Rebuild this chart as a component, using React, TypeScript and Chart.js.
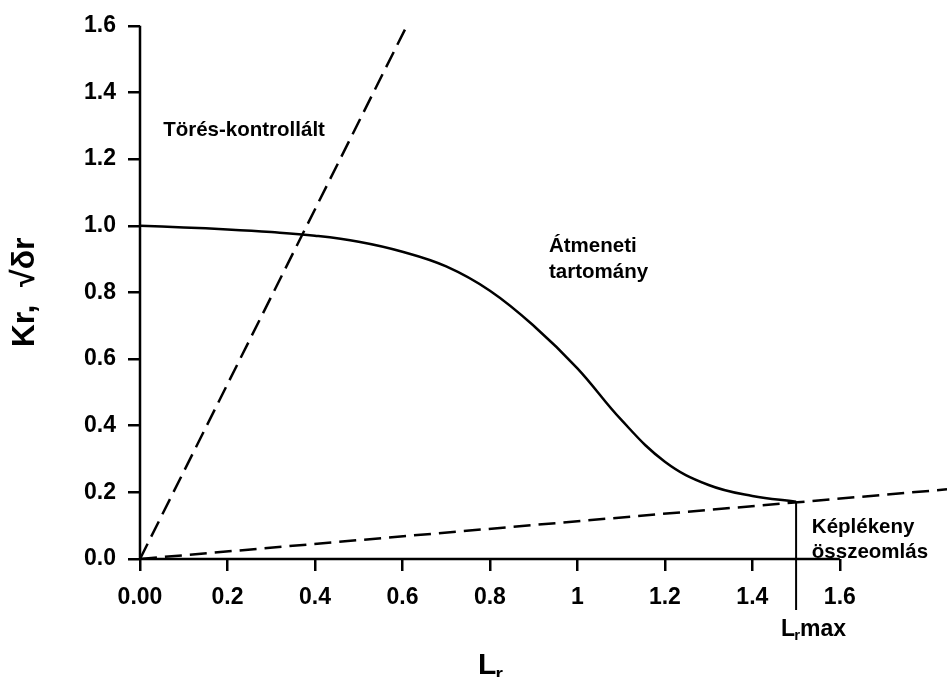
import { useEffect, useRef } from "react";
import { Chart, registerables } from "chart.js";

Chart.register(...registerables);

// Failure assessment curve (Kr versus Lr)
const curveLr = [0, 0.1, 0.2, 0.3, 0.4, 0.5, 0.6, 0.7, 0.8, 0.9, 1.0, 1.1, 1.2, 1.3, 1.4, 1.5];
const curveKr = [1.0, 0.995, 0.989, 0.981, 0.97, 0.952, 0.922, 0.878, 0.805, 0.7, 0.572, 0.418, 0.292, 0.222, 0.189, 0.172];

// Fracture-controlled ray and plastic-collapse ray, both from the origin
const fractureLr = [0, 0.61];
const fractureKr = [0, 1.6];
const collapseLr = [0, 1.845];
const collapseKr = [0, 0.209];

// Cut-off of the curve
const lrMax = 1.5;
const krAtLrMax = 0.172;

const xTickValues = [0, 0.2, 0.4, 0.6, 0.8, 1.0, 1.2, 1.4, 1.6];
const yTickValues = [0, 0.2, 0.4, 0.6, 0.8, 1.0, 1.2, 1.4, 1.6];
const xAxisEnd = 1.6;
const yAxisEnd = 1.6;
const xScaleMax = 1.845;

const tickFont = "'Liberation Sans', Arial, sans-serif";
const labelFont = "'Liberation Sans', Arial, sans-serif";

const fmtX = (v: number) => {
  if (Math.abs(v) < 1e-9) return "0.00";
  if (Math.abs(v - 1) < 1e-9) return "1";
  return v.toFixed(1);
};

const toPoints = (xs: number[], ys: number[]) => xs.map((x, i) => ({ x, y: ys[i] }));

const annotations = {
  id: "annotations",
  afterDraw(chart: any) {
    const { ctx } = chart;
    const xs = chart.scales.x;
    const ys = chart.scales.y;
    const px = (v: number) => xs.getPixelForValue(v);
    const py = (v: number) => ys.getPixelForValue(v);
    ctx.save();
    ctx.strokeStyle = "#000";
    ctx.fillStyle = "#000";
    ctx.lineWidth = 2.5;
    ctx.lineCap = "butt";

    // axis lines
    ctx.beginPath();
    ctx.moveTo(px(0), py(0));
    ctx.lineTo(px(xAxisEnd), py(0));
    ctx.moveTo(px(0), py(0));
    ctx.lineTo(px(0), py(yAxisEnd));
    ctx.stroke();

    // Lr,max marker
    ctx.lineWidth = 2;
    ctx.beginPath();
    ctx.moveTo(px(lrMax), py(krAtLrMax));
    ctx.lineTo(px(lrMax), ys.bottom + 51);
    ctx.stroke();

    // region labels
    ctx.textAlign = "left";
    ctx.textBaseline = "alphabetic";
    ctx.font = `bold 20.5px ${labelFont}`;
    ctx.fillText("Törés-kontrollált", px(0.053), py(1.27));
    ctx.fillText("Átmeneti", px(0.935), py(0.922));
    ctx.fillText("tartomány", px(0.935), py(0.843));
    ctx.fillText("Képlékeny", px(1.536), py(0.077));
    ctx.fillText("összeomlás", px(1.536), py(0.003));

    // Lr,max label
    let lx = px(lrMax) - 15;
    const lb = ys.bottom + 77;
    ctx.font = `bold 23px ${tickFont}`;
    ctx.fillText("L", lx, lb);
    lx += ctx.measureText("L").width - 1;
    ctx.font = `bold 15px ${tickFont}`;
    ctx.fillText("r", lx, lb + 4);
    lx += ctx.measureText("r").width;
    ctx.font = `bold 23px ${tickFont}`;
    ctx.fillText("max", lx, lb);

    // x axis title
    let tx = px(0.773);
    const tb = ys.bottom + 115;
    ctx.font = `bold 30px ${tickFont}`;
    ctx.fillText("L", tx, tb);
    tx += ctx.measureText("L").width - 1;
    ctx.font = `bold 19px ${tickFont}`;
    ctx.fillText("r", tx, tb + 6);

    // y axis title
    ctx.translate(25, (ys.top + ys.bottom) / 2);
    ctx.rotate(-Math.PI / 2);
    ctx.textAlign = "center";
    ctx.textBaseline = "middle";
    ctx.font = `bold 32px ${tickFont}`;
    ctx.fillText("Kr,  √δr", 0, 0);

    ctx.restore();
  },
};

export default function App() {
  const ref = useRef<HTMLCanvasElement>(null);

  useEffect(() => {
    document.body.style.margin = "0";
    const canvas = ref.current;
    if (!canvas) return;

    const tickGrid = {
      display: true,
      drawOnChartArea: false,
      drawTicks: true,
      tickLength: 12,
      color: "#000",
      lineWidth: 2.5,
    };

    const chart = new Chart(canvas, {
      type: "line",
      data: {
        datasets: [
          {
            data: toPoints(curveLr, curveKr),
            borderColor: "#000",
            borderWidth: 2.5,
            pointRadius: 0,
            tension: 0.4,
            fill: false,
          },
          {
            data: toPoints(fractureLr, fractureKr),
            borderColor: "#000",
            borderWidth: 2.5,
            borderDash: [17, 8],
            pointRadius: 0,
            fill: false,
          },
          {
            data: toPoints(collapseLr, collapseKr),
            borderColor: "#000",
            borderWidth: 2.5,
            borderDash: [17, 8],
            pointRadius: 0,
            fill: false,
          },
        ],
      },
      options: {
        responsive: false,
        animation: false,
        layout: { padding: { top: 21, right: 0, left: 0, bottom: 0 } },
        plugins: {
          legend: { display: false },
          tooltip: { enabled: false },
        },
        scales: {
          x: {
            type: "linear",
            min: 0,
            max: xScaleMax,
            afterBuildTicks: (s: any) => {
              s.ticks = xTickValues.map((v) => ({ value: v }));
            },
            afterFit: (s: any) => {
              s.height = 118;
            },
            border: { display: false },
            grid: tickGrid,
            ticks: {
              autoSkip: false,
              maxRotation: 0,
              padding: 13,
              color: "#000",
              font: { family: tickFont, size: 23, weight: "bold" },
              callback: (v: any) => fmtX(Number(v)),
            },
          },
          y: {
            type: "linear",
            min: 0,
            max: yAxisEnd,
            afterBuildTicks: (s: any) => {
              s.ticks = yTickValues.map((v) => ({ value: v }));
            },
            afterFit: (s: any) => {
              s.width = 140;
            },
            border: { display: false },
            grid: tickGrid,
            ticks: {
              autoSkip: false,
              padding: 12,
              color: "#000",
              font: { family: tickFont, size: 23, weight: "bold" },
              callback: (v: any) => Number(v).toFixed(1),
            },
          },
        },
      },
      plugins: [annotations],
    } as any);

    return () => chart.destroy();
  }, []);

  return <canvas ref={ref} width={947} height={677} style={{ display: "block" }} />;
}
